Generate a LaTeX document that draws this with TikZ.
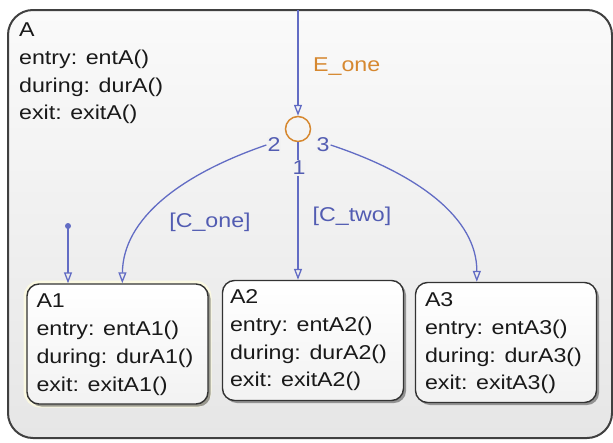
\documentclass[tikz,border=0pt]{standalone}
\usepackage{fontspec}
\setmainfont[FakeStretch=1.16]{Liberation Sans}
\usetikzlibrary{arrows.meta,calc,shadows}
\definecolor{tblue}{RGB}{98,108,196}
\definecolor{lblue}{RGB}{82,92,178}
\definecolor{jorange}{RGB}{214,136,48}
\definecolor{bgtop}{RGB}{250,250,250}
\definecolor{bgbot}{RGB}{230,230,230}
\definecolor{lblbg}{RGB}{242,242,242}
\begin{document}
\begin{tikzpicture}[x=1pt,y=-1pt,
  every node/.style={font=\fontsize{20}{27.7}\selectfont},
  txt/.style={inner sep=0pt, align=left, anchor=north west, text=black!90},
  outerbox/.style={draw=black!75, line width=2pt, rounded corners=25pt,
     top color=bgtop, bottom color=bgbot, minimum width=604pt, minimum height=428pt, inner sep=0pt},
  statebox/.style={draw=black!80, line width=1.4pt, rounded corners=12pt,
     top color=white, bottom color=white!95!black,
     minimum width=181pt, minimum height=120pt, inner sep=0pt,
     drop shadow={shadow xshift=2.5pt, shadow yshift=-2.5pt, opacity=.55, fill=black!70}},
  trans/.style={draw=tblue, line width=1.3pt, -{Triangle[open, length=11pt, width=8pt]}},
  tlabel/.style={text=lblue, inner sep=1pt},
  numlabel/.style={text=lblue, inner sep=1pt, fill=lblbg},
  junction/.style={circle, draw=jorange, line width=1.5pt, minimum size=25pt, inner sep=0pt}
]
\useasboundingbox (0,0) rectangle (613,442);
% outer state A
\node[outerbox] (A) at (310,224) {};
\node[txt] (tA) at (19,22.8) {A\\entry: entA()\\during: durA()\\exit: exitA()};
% glow around A1
\draw[yellow!12!white, line width=5pt, rounded corners=14pt, opacity=.8] (26,283) rectangle (209,405);
% substates
\node[statebox] (A1) at (117.5,344) {};
\node[statebox] (A2) at (313,340.5) {};
\node[statebox] (A3) at (506,342.5) {};
\node[txt] (tA1) at ($(A1.north west)+(10,10.7)$) {A1\\entry: entA1()\\during: durA1()\\exit: exitA1()};
\node[txt] (tA2) at ($(A2.north west)+(8,9.7)$) {A2\\entry: entA2()\\during: durA2()\\exit: exitA2()};
\node[txt] (tA3) at ($(A3.north west)+(10,10.7)$) {A3\\entry: entA3()\\during: durA3()\\exit: exitA3()};
% junction
\node[junction] (J) at (298,129) {};
\coordinate (top) at (298,10);
\draw[trans] (top) -- (J.north);
\node[text=jorange, anchor=west, inner sep=0pt] (E) at (313,67) {E\_one};
% default transition
\coordinate (dflt) at (68,226);
\fill[tblue] (dflt) circle (3pt);
\draw[trans] (dflt) -- (dflt |- A1.north);
% junction labels
\node[numlabel] (l2) at (274,145) {2};
\node[numlabel] (l3) at (323,145) {3};
% transitions out of junction
\coordinate (e1) at ($(A1.north west)+(96,0)$);
\coordinate (e3) at ($(A3.north west)+(62,0)$);
\draw[trans] (J.south) -- (J.south |- A2.north);
\node[numlabel] (l1) at (299,168) {1};
\draw[trans] (l2.west) .. controls (182,174) and (123,218) .. (e1);
\draw[trans] (l3.east) .. controls (418,174) and (477,218) .. (e3);
\node[tlabel] (c1) at (210,222) {[C\_one]};
\node[tlabel] (c2) at (352,216) {[C\_two]};
\end{tikzpicture}
\end{document}
